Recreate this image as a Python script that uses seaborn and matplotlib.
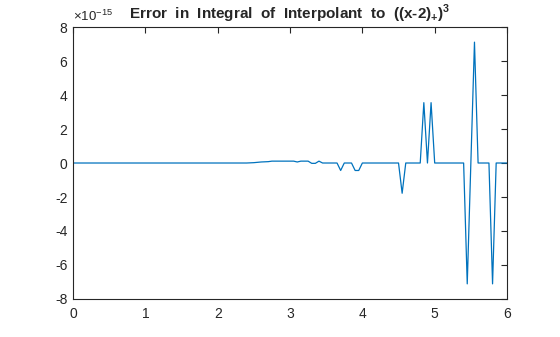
import numpy as np
import pandas as pd
import matplotlib
matplotlib.use("Agg")
import matplotlib.pyplot as plt
import seaborn as sns
from matplotlib.ticker import FuncFormatter

# grid of interpolation nodes 0:0.05:6
x_vals = np.linspace(0, 6, 121)
# error values, in units of 1e-15
err_e15 = ([0.0] * 49 +
           [0.01, 0.02, 0.04, 0.06, 0.07, 0.08] +
           [0.11, 0.11, 0.11, 0.11, 0.11, 0.11, 0.11] +
           [0.06, 0.11, 0.11, 0.11, -0.02, -0.02, 0.11] +
           [0.0, 0.0, 0.0, 0.0, 0.0] +
           [-0.44, 0.0, 0.0, 0.0, -0.44, -0.44] +
           [0.0] * 11 +
           [-1.78] +
           [0.0] * 5 +
           [3.55, 0.0, 3.55] +
           [0.0] * 9 +
           [-7.11, 0.0, 7.11] +
           [0.0] * 4 +
           [-7.11] +
           [0.0] * 4)
err = np.array(err_e15) * 1e-15

x_ticks = [0, 1, 2, 3, 4, 5, 6]
y_ticks = [-8e-15, -6e-15, -4e-15, -2e-15, 0, 2e-15, 4e-15, 6e-15, 8e-15]
title = r"Error  in  Integral  of  Interpolant  to  ((x-2)$_\mathbf{+}$)$^\mathbf{3}$"

sns.set_style("white")
plt.rcParams["font.family"] = ["Liberation Sans", "DejaVu Sans"]
plt.rcParams["mathtext.fontset"] = "custom"
plt.rcParams["mathtext.rm"] = "Liberation Sans"
plt.rcParams["mathtext.bf"] = "Liberation Sans:bold"

df = pd.DataFrame({"x": x_vals, "err": err})

fig = plt.figure(figsize=(5.6, 3.37), dpi=100)
ax = fig.add_axes([0.1304, 0.1128, 0.775, 0.807])
sns.lineplot(data=df, x="x", y="err", ax=ax, color="#0072BD", linewidth=0.9)

ax.set_xlim(0, 6)
ax.set_ylim(-8e-15, 8e-15)
ax.set_xticks(x_ticks)
ax.set_yticks(y_ticks)
ax.yaxis.set_major_formatter(FuncFormatter(lambda v, p: f"{round(v / 1e-15):d}"))
ax.set_xlabel("")
ax.set_ylabel("")

dark = "#262626"
for s in ax.spines.values():
    s.set_color(dark)
    s.set_linewidth(0.8)
ax.tick_params(direction="in", length=4, width=0.8, colors=dark, labelsize=10,
               top=True, right=True, labelcolor=dark)
ax.tick_params(axis="x", pad=6)
ax.tick_params(axis="y", pad=4)

ax.text(0.0, 1.012, r"$\times$10$^{-15}$", transform=ax.transAxes, fontsize=9.5,
        color=dark, ha="left", va="bottom")
ax.set_title(title, fontsize=11, fontweight="bold", color=dark, pad=6)

fig.savefig("out.png", dpi=100)
